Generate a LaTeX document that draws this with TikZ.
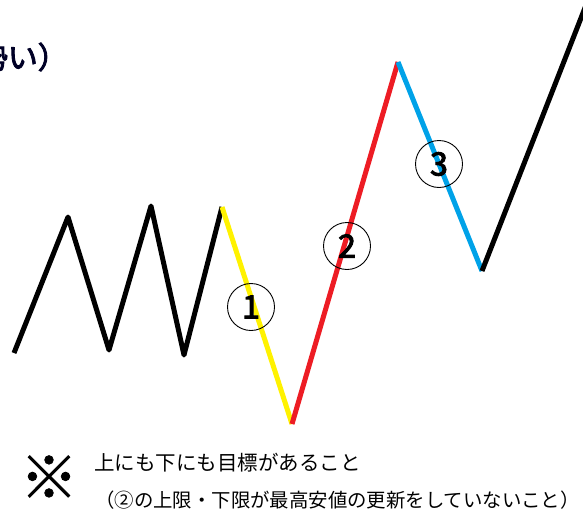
\documentclass[tikz,border=0pt]{standalone}
\usepackage{fontspec}
\newfontfamily\jp{Noto Sans CJK JP}
\newfontfamily\jpb{Noto Sans CJK JP}[FakeBold=3]
\newfontfamily\jpm{Noto Sans CJK JP}[FakeBold=1.2]
\definecolor{pyellow}{HTML}{FFF200}
\definecolor{pred}{HTML}{ED1C24}
\definecolor{pblue}{HTML}{00A2E8}
\tikzset{
  wave/.style={line width=5pt, line join=round, line cap=butt},
  circnum/.style={circle, draw=black, line width=0.9pt, minimum size=47pt, inner sep=0pt,
    font=\jpb\fontsize{32pt}{32pt}\selectfont},
  note/.style={anchor=west, inner sep=0pt}
}
\begin{document}
\begin{tikzpicture}[x=1pt,y=-1pt]
\useasboundingbox (0,0) rectangle (583,514);
\clip (0,0) rectangle (583,514);
% points
\coordinate (s0) at (14,353);
\coordinate (p1) at (68,217);
\coordinate (t1) at (109,350);
\coordinate (p2) at (151,206);
\coordinate (t2) at (184,355);
\coordinate (p3) at (222,207);
\coordinate (b1) at (292,424);
\coordinate (h1) at (398,62);
\coordinate (b2) at (482,271);
\coordinate (e) at (590,-5);
% zigzag
\draw[wave, black] (s0) -- (p1) -- (t1) -- (p2) -- (t2) -- (p3);
\draw[wave, pyellow] (p3) -- (b1);
\draw[wave, pred] (b1) -- (h1);
\draw[wave, pblue] (h1) -- (b2);
\draw[wave, black] (b2) -- (e);
% circled numbers
\node[circnum] (n1) at (251,307) {1};
\node[circnum] (n2) at (347,246) {2};
\node[circnum] (n3) at (439,164) {3};
% top-left text
\node[anchor=east, inner sep=0pt, font=\jpb\fontsize{30pt}{30pt}\selectfont, text=black!85!blue] (title) at (68,57) {勢い）};
% note
\node[inner sep=0pt, font=\jpm\fontsize{58pt}{58pt}\selectfont] (mark) at (49,477) {※};
\node[note, font=\jp\fontsize{20.5pt}{21pt}\selectfont] (l1) at (94,463) {上にも下にも目標があること};
\node[note, font=\jp\fontsize{19.4pt}{21pt}\selectfont] (l2) at (95,500) {（②の上限・下限が最高安値の更新をしていないこと）};
\end{tikzpicture}
\end{document}
